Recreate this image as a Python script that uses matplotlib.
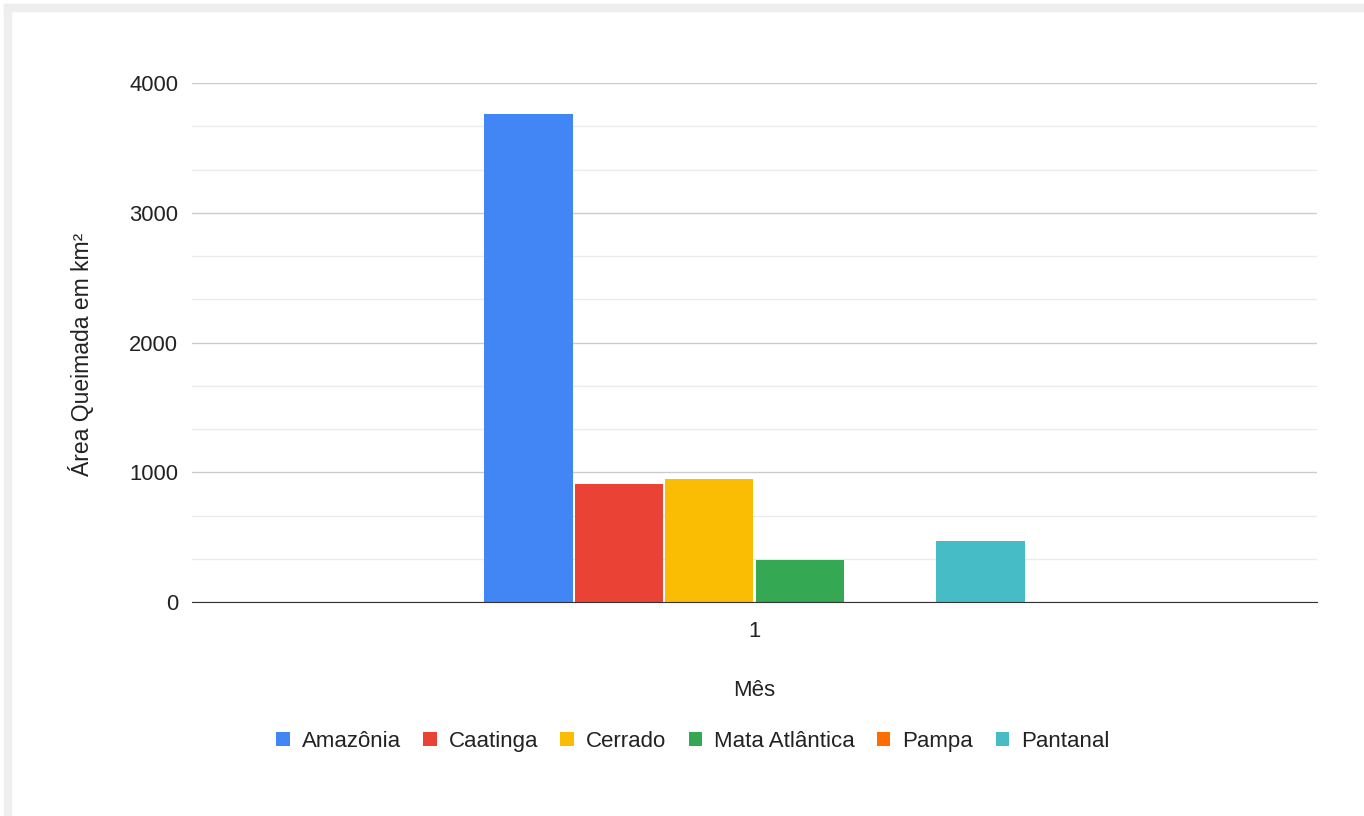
import matplotlib.pyplot as plt
from matplotlib.ticker import MultipleLocator
from matplotlib.patches import Rectangle

# Área queimada por bioma no mês 1
biomas = ['Amazônia', 'Caatinga', 'Cerrado', 'Mata Atlântica', 'Pampa', 'Pantanal']
area = [3760, 910, 950, 320, 0, 470]
cores = ['#4285F4', '#EA4335', '#FBBC04', '#34A853', '#FF6D01', '#46BDC6']
mes = ['1']

plt.rcParams['font.family'] = ['Liberation Sans', 'DejaVu Sans']
txt = '#222222'

fig = plt.figure(figsize=(13.64, 8.16), dpi=100)
# moldura cinza clara (bordas superior e esquerda)
fig.patches.append(Rectangle((4 / 1364, 0), 7 / 1364, 1 - 4 / 816, transform=fig.transFigure,
                             color='#eeeeee', zorder=0))
fig.patches.append(Rectangle((4 / 1364, 1 - 11 / 816), 1, 7 / 816, transform=fig.transFigure,
                             color='#eeeeee', zorder=0))

ax = fig.add_axes([192 / 1364, 1 - 602 / 816, 1125 / 1364, 519 / 816])

largura = 0.0785
passo = 0.0804
n = len(biomas)
for i, (b, v, c) in enumerate(zip(biomas, area, cores)):
    x = (i - (n - 1) / 2) * passo
    ax.bar(x, v, width=largura, color=c, label=b, zorder=3)

ax.set_xlim(-0.5, 0.5)
ax.set_ylim(0, 4000)
ax.set_xticks([0])
ax.set_xticklabels(mes)
ax.yaxis.set_major_locator(MultipleLocator(1000))
ax.yaxis.set_minor_locator(MultipleLocator(1000 / 3))
ax.grid(axis='y', which='major', color='#cccccc', linewidth=1, zorder=0)
ax.grid(axis='y', which='minor', color='#ebebeb', linewidth=1, zorder=0)
for s in ['top', 'right', 'left']:
    ax.spines[s].set_visible(False)
ax.spines['bottom'].set_color('#333333')
ax.spines['bottom'].set_zorder(4)
ax.tick_params(axis='both', which='both', length=0, labelsize=15.8, colors=txt)
ax.tick_params(axis='y', pad=10)
ax.tick_params(axis='x', pad=14)

ax.set_ylabel('Área Queimada em km²', fontsize=16.5, color=txt)
ax.yaxis.set_label_coords(-0.087, 0.477)
ax.set_xlabel('Mês', fontsize=16, color=txt)
ax.xaxis.set_label_coords(0.5, -0.151)

handles, labels = ax.get_legend_handles_labels()
fig.legend(handles, labels, loc='center', bbox_to_anchor=(0.508, 0.091), ncol=6,
           frameon=False, fontsize=16, handlelength=0.6, handleheight=0.6,
           handletextpad=0.55, columnspacing=1.0, labelcolor=txt)

fig.savefig('out.png', dpi=100, facecolor='white')
